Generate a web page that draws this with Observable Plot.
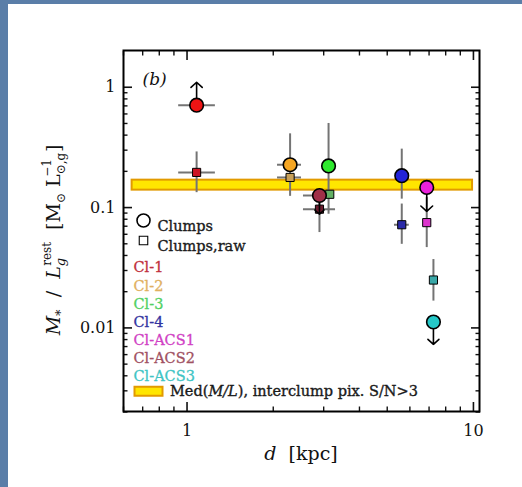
<!DOCTYPE html>
<html><head><meta charset="utf-8">
<script src="https://cdn.jsdelivr.net/npm/d3@7"></script>
<script src="https://cdn.jsdelivr.net/npm/@observablehq/plot@0.6"></script>
<style>
html,body{margin:0;padding:0;background:#fff;width:522px;height:487px;overflow:hidden}
#stripL{position:absolute;left:0;top:0;width:8px;height:487px;background:#5a7ea8}
#stripT{position:absolute;left:0;top:0;width:522px;height:4px;background:#5a7ea8}
#panel{position:absolute;left:8px;top:4px;width:514px;height:483px;background:#fff}
</style></head><body><div id="stripL"></div><div id="stripT"></div><div id="panel"></div>
<script>
// ---- data ----
const names = ["Cl-1","Cl-2","Cl-3","Cl-4","Cl-ACS1","Cl-ACS2","Cl-ACS3"];
const circleColors = ["#ee1414","#f5a623","#2ee82e","#2323d8","#ea22dc","#a03048","#25c8c8"];
const squareColors = ["#cc1424","#c8a058","#62b064","#2a2aa8","#dc34cc","#6a1a2c","#3aa8a8"];
const labelColors  = ["#c0303c","#e0b060","#52d062","#3434a0","#d040c4","#a05062","#40c4c4"];
// clumps (circles)
const circD   = [1.08, 2.29, 3.12, 5.62, 6.87, 2.90, 7.25];
const circML  = [0.71, 0.227, 0.222, 0.184, 0.147, 0.126, 0.0112];
const circXLo = [0.935, 2.07, null, null, null, 2.55, null];
const circXHi = [1.256, 2.51, null, null, null, 3.25, null];
const circYLo = [null, 0.124, 0.088, 0.1175, null, null, null];
const circYHi = [null, 0.41, 0.50, 0.306, null, null, null];
const circLimit = [1.10, null, null, null, 0.093, 0.088, 0.0073];
// clumps, raw (squares)
const rawD   = [1.08, 2.29, 3.15, 5.62, 6.87, 2.90, 7.25];
const rawML  = [0.196, 0.178, 0.129, 0.072, 0.075, 0.097, 0.025];
const rawXLo = [0.935, 2.07, null, 5.3, null, 2.55, null];
const rawXHi = [1.256, 2.51, null, 5.97, null, 3.30, null];
const rawYLo = [0.133, null, null, 0.0495, 0.0465, 0.062, 0.0167];
const rawYHi = [0.29, null, null, 0.107, 0.121, 0.11, 0.037];
// interclump median M/L band
const bandD  = [0.643, 9.93];
const bandML = [0.1396, 0.169];
// ticks
const xTicks = [1, 10];
const xTickLabels = ["1", "10"];
const xMinor = [0.6,0.7,0.8,0.9,2,3,4,5,6,7,8,9];
const yTicks = [0.01, 0.1, 1];
const yTickLabels = ["0.01", "0.1", "1"];
const yMinor = [0.002,0.003,0.004,0.005,0.006,0.007,0.008,0.009,0.02,0.03,0.04,0.05,0.06,0.07,0.08,0.09,0.2,0.3,0.4,0.5,0.6,0.7,0.8,0.9];

// ---- tables ----
const circ = names.map((n,i)=>({name:n, d:circD[i], ml:circML[i], xlo:circXLo[i], xhi:circXHi[i], ylo:circYLo[i], yhi:circYHi[i], lim:circLimit[i], c:circleColors[i]}));
const raw = names.map((n,i)=>({name:n, d:rawD[i], ml:rawML[i], xlo:rawXLo[i], xhi:rawXHi[i], ylo:rawYLo[i], yhi:rawYHi[i], c:squareColors[i]}));
const band = [{x1:bandD[0], x2:bandD[1], y1:bandML[0], y2:bandML[1]}];
const xErr = [...raw, ...circ].filter(r=>r.xlo!=null);
const yErr = [...raw, ...circ].filter(r=>r.ylo!=null);
const lims = circ.filter(r=>r.lim!=null);

const F = "DejaVu Serif";
const errColor = "#747474";
const LF = 14.5;
const legendMarks = [];
legendMarks.push(Plot.dot([0], {frameAnchor:"top-left", dx:20, dy:170, r:6.5, stroke:"black", strokeWidth:1.6, fill:"none"}));
legendMarks.push(Plot.dot([0], {frameAnchor:"top-left", dx:20, dy:190, r:4.8, symbol:"square", stroke:"black", strokeWidth:1.1, fill:"none"}));
legendMarks.push(Plot.text(["Clumps"], {frameAnchor:"top-left", dx:34, dy:170, textAnchor:"start", fontSize:LF, fill:"#1a1a1a", stroke:"#1a1a1a", strokeWidth:0.35}));
legendMarks.push(Plot.text(["Clumps,raw"], {frameAnchor:"top-left", dx:34, dy:190, textAnchor:"start", fontSize:LF, fill:"#1a1a1a", stroke:"#1a1a1a", strokeWidth:0.35}));
names.forEach((n,i)=>{
  legendMarks.push(Plot.text([n], {frameAnchor:"top-left", dx:10, dy:211.7 + i*18.1, textAnchor:"start", fontSize:LF, fill:labelColors[i], stroke:labelColors[i], strokeWidth:0.3}));
});
const bandSymbol = {draw(ctx){ ctx.rect(-14,-4.5,28,9); }};
legendMarks.push(Plot.dot([0], {frameAnchor:"top-left", dx:25, dy:340.7, symbol:bandSymbol, r:5, fill:"#ffe600", stroke:"#e29a00", strokeWidth:2}));

const chart = Plot.plot({
  width: 514, height: 483,
  marginLeft: 115, marginRight: 43, marginTop: 46, marginBottom: 76,
  style: {fontFamily: F, fontSize: "15px", color: "#111", background: "transparent"},
  x: {type: "log", domain: [0.6, 10.5]},
  y: {type: "log", domain: [0.00202, 2.02]},
  marks: [
    Plot.rect(band, {x1:"x1", x2:"x2", y1:"y1", y2:"y2", fill:"#ffe600", stroke:"#e29a00", strokeWidth:2}),
    Plot.ruleY(xErr, {y:"ml", x1:"xlo", x2:"xhi", stroke:errColor, strokeWidth:2}),
    Plot.ruleX(yErr, {x:"d", y1:"ylo", y2:"yhi", stroke:errColor, strokeWidth:2}),
    Plot.dot(raw, {x:"d", y:"ml", symbol:"square", r:4.6, fill:"c", stroke:"black", strokeWidth:1}),
    Plot.arrow(lims, {x1:"d", y1:"ml", x2:"d", y2:"lim", stroke:"black", strokeWidth:1.6, headLength:9, headAngle:95}),
    Plot.dot(circ, {x:"d", y:"ml", r:6.8, fill:"c", stroke:"black", strokeWidth:1.6}),
    // axes: ticks inward on all four sides
    Plot.axisX({anchor:"bottom", ticks:xTicks, tickSize:-9, fill:"none", label:null, strokeWidth:1.6}),
    Plot.axisX({anchor:"bottom", ticks:xMinor, tickSize:-4.5, fill:"none", label:null, strokeWidth:1.4}),
    Plot.axisX({anchor:"top", ticks:xTicks, tickSize:-9, fill:"none", label:null, strokeWidth:1.6}),
    Plot.axisX({anchor:"top", ticks:xMinor, tickSize:-4.5, fill:"none", label:null, strokeWidth:1.4}),
    Plot.axisY({anchor:"left", ticks:yTicks, tickSize:-9, fill:"none", label:null, strokeWidth:1.6}),
    Plot.axisY({anchor:"left", ticks:yMinor, tickSize:-4.5, fill:"none", label:null, strokeWidth:1.4}),
    Plot.axisY({anchor:"right", ticks:yTicks, tickSize:-9, fill:"none", label:null, strokeWidth:1.6}),
    Plot.axisY({anchor:"right", ticks:yMinor, tickSize:-4.5, fill:"none", label:null, strokeWidth:1.4}),
    Plot.axisX({anchor:"bottom", ticks:xTicks, tickSize:0, tickPadding:13, tickFormat:(d)=>xTickLabels[xTicks.indexOf(d)], label:null, fontSize:16}),
    Plot.axisY({anchor:"left", ticks:yTicks, tickSize:0, tickPadding:8, tickFormat:(d)=>yTickLabels[yTicks.indexOf(d)], label:null, fontSize:16}),
    Plot.frame({stroke:"black", strokeWidth:2}),
    Plot.text(["(b)"], {frameAnchor:"top-left", dx:19, dy:22, textAnchor:"start", fontStyle:"italic", fontSize:17}),
    ...legendMarks
  ]
});
document.getElementById("panel").appendChild(chart);

// rich-text labels
const svg = d3.select(chart);
// legend text for the band
const med = svg.append("text").attr("x", 115+47).attr("y", 46+340.7).attr("dy","0.35em").attr("text-anchor","start")
  .attr("font-family", F).attr("font-size", LF).attr("fill", "#1a1a1a").attr("stroke","#1a1a1a").attr("stroke-width",0.35);
med.append("tspan").text("Med(");
med.append("tspan").attr("font-style","italic").text("M/L");
med.append("tspan").text("), interclump pix. S/N>3");

// x label
const xl = svg.append("text").attr("x", 293).attr("y", 449).attr("dy","0.35em").attr("text-anchor","middle")
  .attr("font-family", F).attr("font-size", 19).attr("fill", "#111").attr("style","white-space:pre");
xl.append("tspan").attr("font-style","italic").text("d");
xl.append("tspan").text("  [kpc]");

// y label
const yl = svg.append("text").attr("transform","translate(52,236) rotate(-90)").attr("text-anchor","middle")
  .attr("font-family", F).attr("font-size", 19).attr("fill", "#111").attr("style","white-space:pre");
yl.append("tspan").attr("font-style","italic").text("M");
yl.append("tspan").attr("font-size",13).attr("dy",5).text("*");
yl.append("tspan").attr("dy",-5).text("  /  ");
yl.append("tspan").attr("font-style","italic").text("L");
yl.append("tspan").attr("font-size",13).attr("font-style","italic").attr("dy",5).text("g");
yl.append("tspan").attr("font-size",12).attr("dy",-14).attr("dx",-8).text("rest");
yl.append("tspan").attr("dy",9).text("  [M");
yl.append("tspan").attr("font-size",12).attr("dy",5).text("⊙");
yl.append("tspan").attr("dy",-5).text(" L");
yl.append("tspan").attr("font-size",12).attr("dy",5).text("⊙,g");
yl.append("tspan").attr("font-size",12).attr("dy",-14).attr("dx",-24).text("−1");
yl.append("tspan").attr("dy",9).attr("dx",7).text("]");
</script></body></html>
